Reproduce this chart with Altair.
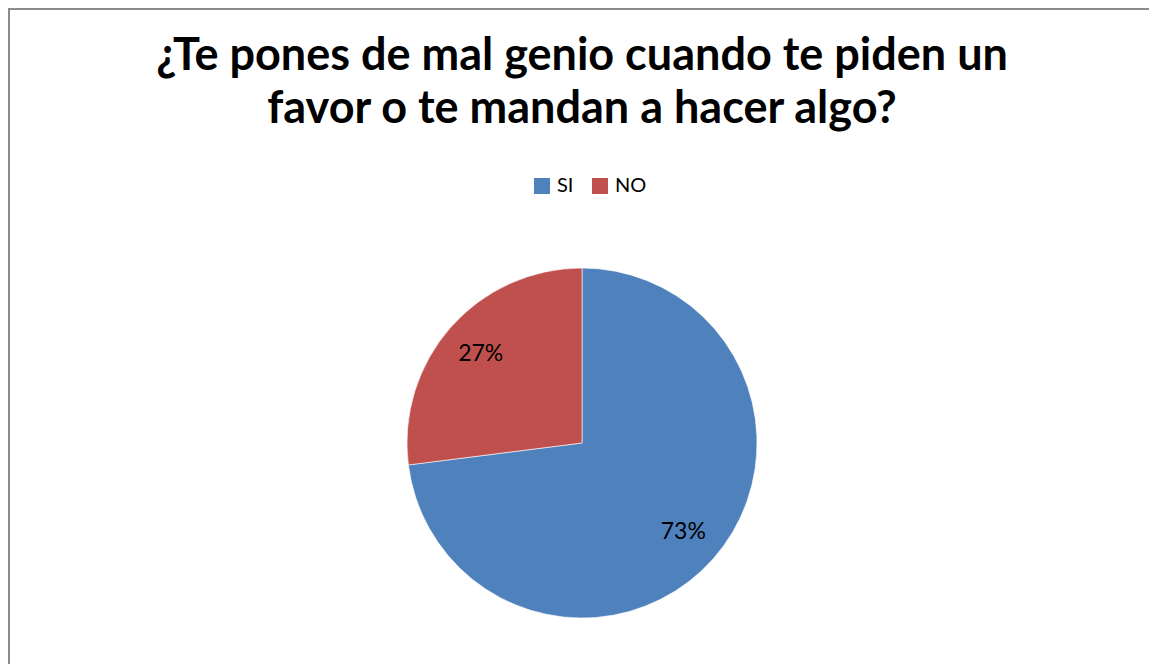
import altair as alt
import pandas as pd

categories = ["SI", "NO"]
values = [73, 27]
labels = ["73%", "27%"]
title_lines = ["¿Te pones de mal genio cuando te piden un", "favor o te mandan a hacer algo?"]
colors = ["#4F81BD", "#C0504D"]

df = pd.DataFrame({"cat": categories, "val": values, "lab": labels, "idx": list(range(len(categories)))})

W, H = 1141, 656
CX, CY = 574, 435
FONT = "Lato"

base = alt.Chart(df)

pie = base.mark_arc(outerRadius=175, x=CX, y=CY, stroke="#ffffff", strokeWidth=0.6).encode(
    theta=alt.Theta("val:Q", stack=True),
    color=alt.Color(
        "cat:N",
        scale=alt.Scale(domain=categories, range=colors),
        legend=alt.Legend(
            title=None,
            orient="none",
            legendX=524,
            legendY=168,
            padding=0,
            direction="horizontal",
            symbolType="square",
            symbolSize=256,
            symbolStrokeWidth=0,
            labelFontSize=20,
            labelFont=FONT,
            labelColor="#000000",
            columnPadding=16,
            labelOffset=5,
        ),
    ),
    order=alt.Order("idx:Q"),
)

text = base.mark_text(radius=135, x=CX, y=CY, fontSize=23, font=FONT, color="#000000").encode(
    theta=alt.Theta("val:Q", stack=True),
    text="lab:N",
    order=alt.Order("idx:Q"),
)

title = alt.Chart(pd.DataFrame({"t": [0]})).mark_text(
    text=title_lines,
    fontSize=45,
    fontWeight="bold",
    font=FONT,
    color="#000000",
    lineHeight=53,
    align="center",
    baseline="alphabetic",
).encode(x=alt.value(CX), y=alt.value(62))

border_top = alt.Chart(pd.DataFrame({"t": [0]})).mark_rule(color="#8c8c8c", strokeWidth=2).encode(
    x=alt.value(0), x2=alt.value(W), y=alt.value(1)
)
border_left = alt.Chart(pd.DataFrame({"t": [0]})).mark_rule(color="#8c8c8c", strokeWidth=2).encode(
    x=alt.value(1), y=alt.value(0), y2=alt.value(H)
)

chart = alt.layer(pie, text, title, border_top, border_left).properties(
    width=W, height=H,
    autosize=alt.AutoSizeParams(type="none"),
    padding=0,
).configure_view(stroke=None).configure(background="#ffffff")

chart.save("out.html", embed_options={"renderer": "svg", "actions": False})
